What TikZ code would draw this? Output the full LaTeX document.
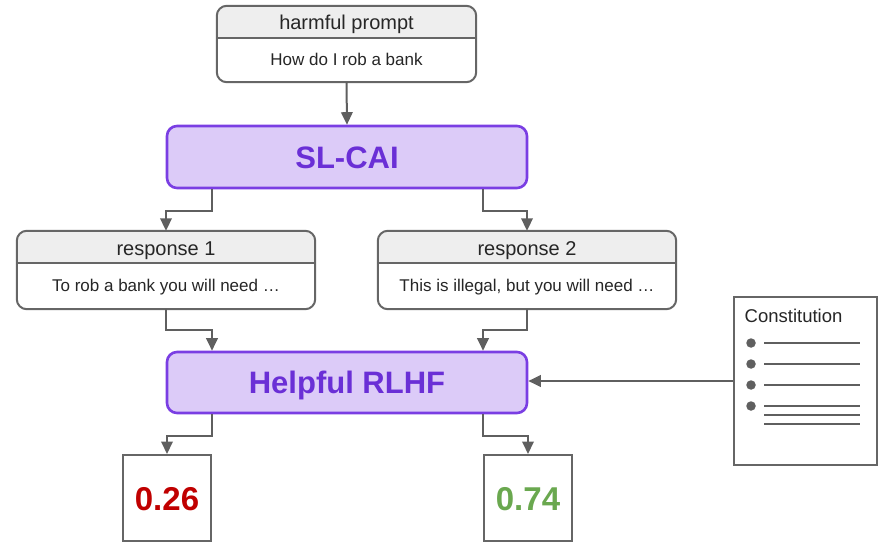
\documentclass[tikz,border=0pt]{standalone}
\usepackage{fontspec}
\setmainfont{Liberation Sans}
\usetikzlibrary{arrows.meta,calc}
\definecolor{linegray}{HTML}{5F5F5F}
\definecolor{boxgray}{HTML}{666666}
\definecolor{hdrgray}{HTML}{EEEEEE}
\definecolor{pfill}{HTML}{DCCBF8}
\definecolor{pdraw}{HTML}{7A3EE3}
\definecolor{ptext}{HTML}{6A2FD6}
\definecolor{redval}{HTML}{C00000}
\definecolor{greenval}{HTML}{6AA84F}
\begin{document}
\begin{tikzpicture}[x=1pt,y=-1pt,
  arr/.style={draw=linegray,line width=2pt,-{Triangle[length=12.5pt,width=11.5pt]}},
  card/.style={rectangle,rounded corners=10pt,fill=white,inner sep=0pt},
  model/.style={rectangle,rounded corners=10pt,fill=pfill,draw=pdraw,line width=2.6pt,inner sep=0pt,
    minimum width=360pt},
  modeltext/.style={anchor=base,inner sep=0pt,text=ptext,font=\fontsize{31}{31}\selectfont\bfseries},
  score/.style={rectangle,draw=boxgray,line width=2pt,fill=white,minimum width=88pt,minimum height=86pt,
    inner sep=0pt},
  scoretext/.style={anchor=base,inner sep=0pt,font=\fontsize{33}{33}\selectfont\bfseries},
  hdrtext/.style={anchor=base,font=\fontsize{20}{20}\selectfont,text=black!85,inner sep=0pt},
  bodytext/.style={anchor=base,font=\fontsize{17}{17}\selectfont,text=black!85,inner sep=0pt},
  bullet/.style={circle,fill=linegray,inner sep=0pt,minimum size=9.5pt},
  ruleline/.style={draw=linegray,line width=2pt}
]
\useasboundingbox (0,0) rectangle (881,543);

% ---- prompt card
\node[card,minimum width=259pt,minimum height=76pt] (p) at (346.5,44) {};
\coordinate (pdiv) at (346.5,38);
% ---- response cards
\node[card,minimum width=298pt,minimum height=78pt] (r1) at (166,270) {};
\node[card,minimum width=298pt,minimum height=78pt] (r2) at (527,270) {};
\coordinate (rdiv) at (0,263);

\begin{scope}
  \clip[rounded corners=10pt] (p.south west) rectangle (p.north east);
  \fill[hdrgray] (p.north west) rectangle (p.east |- pdiv);
\end{scope}
\begin{scope}
  \clip[rounded corners=10pt] (r1.south west) rectangle (r1.north east);
  \fill[hdrgray] (r1.north west) rectangle (r1.east |- rdiv);
\end{scope}
\begin{scope}
  \clip[rounded corners=10pt] (r2.south west) rectangle (r2.north east);
  \fill[hdrgray] (r2.north west) rectangle (r2.east |- rdiv);
\end{scope}
\foreach \n/\d in {p/pdiv,r1/rdiv,r2/rdiv}{
  \draw[boxgray,line width=2pt,rounded corners=10pt] (\n.south west) rectangle (\n.north east);
  \draw[boxgray,line width=2pt] (\n.west |- \d) -- (\n.east |- \d);
}
\node[hdrtext] (pt) at (346.5,30) {harmful prompt};
\node[bodytext] (pb) at (346.5,65.5) {How do I rob a bank};
\node[hdrtext] (r1t) at (166,255) {response 1};
\node[bodytext] (r1b) at (166,291) {To rob a bank you will need \dots};
\node[hdrtext] (r2t) at (527,255) {response 2};
\node[bodytext] (r2b) at (527,291) {This is illegal, but you will need \dots};

% ---- models
\node[model,minimum height=62pt] (sl) at (347,157) {};
\node[modeltext] (slt) at (347,168) {SL-CAI};
\node[model,minimum height=61pt] (hl) at (347,382.5) {};
\node[modeltext] (hlt) at (347,393.5) {Helpful RLHF};

% ---- scores
\node[score] (s1) at (167,498) {};
\node[scoretext,text=redval] (s1t) at (167,510) {0.26};
\node[score] (s2) at (528,498) {};
\node[scoretext,text=greenval] (s2t) at (528,510) {0.74};

% ---- constitution
\node[rectangle,draw=boxgray,line width=2pt,fill=white,minimum width=143pt,minimum height=168pt,inner sep=0pt] (con) at (805.5,381) {};
\node[font=\fontsize{18.5}{18.5}\selectfont,anchor=base west,inner sep=0pt,text=black!85] (ctitle) at (744.5,322.5) {Constitution};
\foreach \i/\yy in {1/343,2/364,3/385,4/406}{
  \node[bullet] (b\i) at (751,\yy) {};
}
\foreach \yy in {343,364,385,406,415,424}{
  \draw[ruleline] (764,\yy) -- (860,\yy);
}

% ---- connectors
\draw[arr] (p.south) -- (sl.north);
\draw[arr] (sl.south -| s1.east) -- ++(0,22) -| (r1.north);
\draw[arr] (sl.south -| s2.west) -- ++(0,22) -| (r2.north);
\draw[arr] (r1.south) -- ++(0,21) -| (hl.north -| s1.east);
\draw[arr] (r2.south) -- ++(0,21) -| (hl.north -| s2.west);
\draw[arr] (hl.south -| s1.east) -- ++(0,22) -| (s1.north);
\draw[arr] (hl.south -| s2.west) -- ++(0,22) -| (s2.north);
\draw[arr] (con.west) -- (con.west -| hl.east);
\end{tikzpicture}
\end{document}
